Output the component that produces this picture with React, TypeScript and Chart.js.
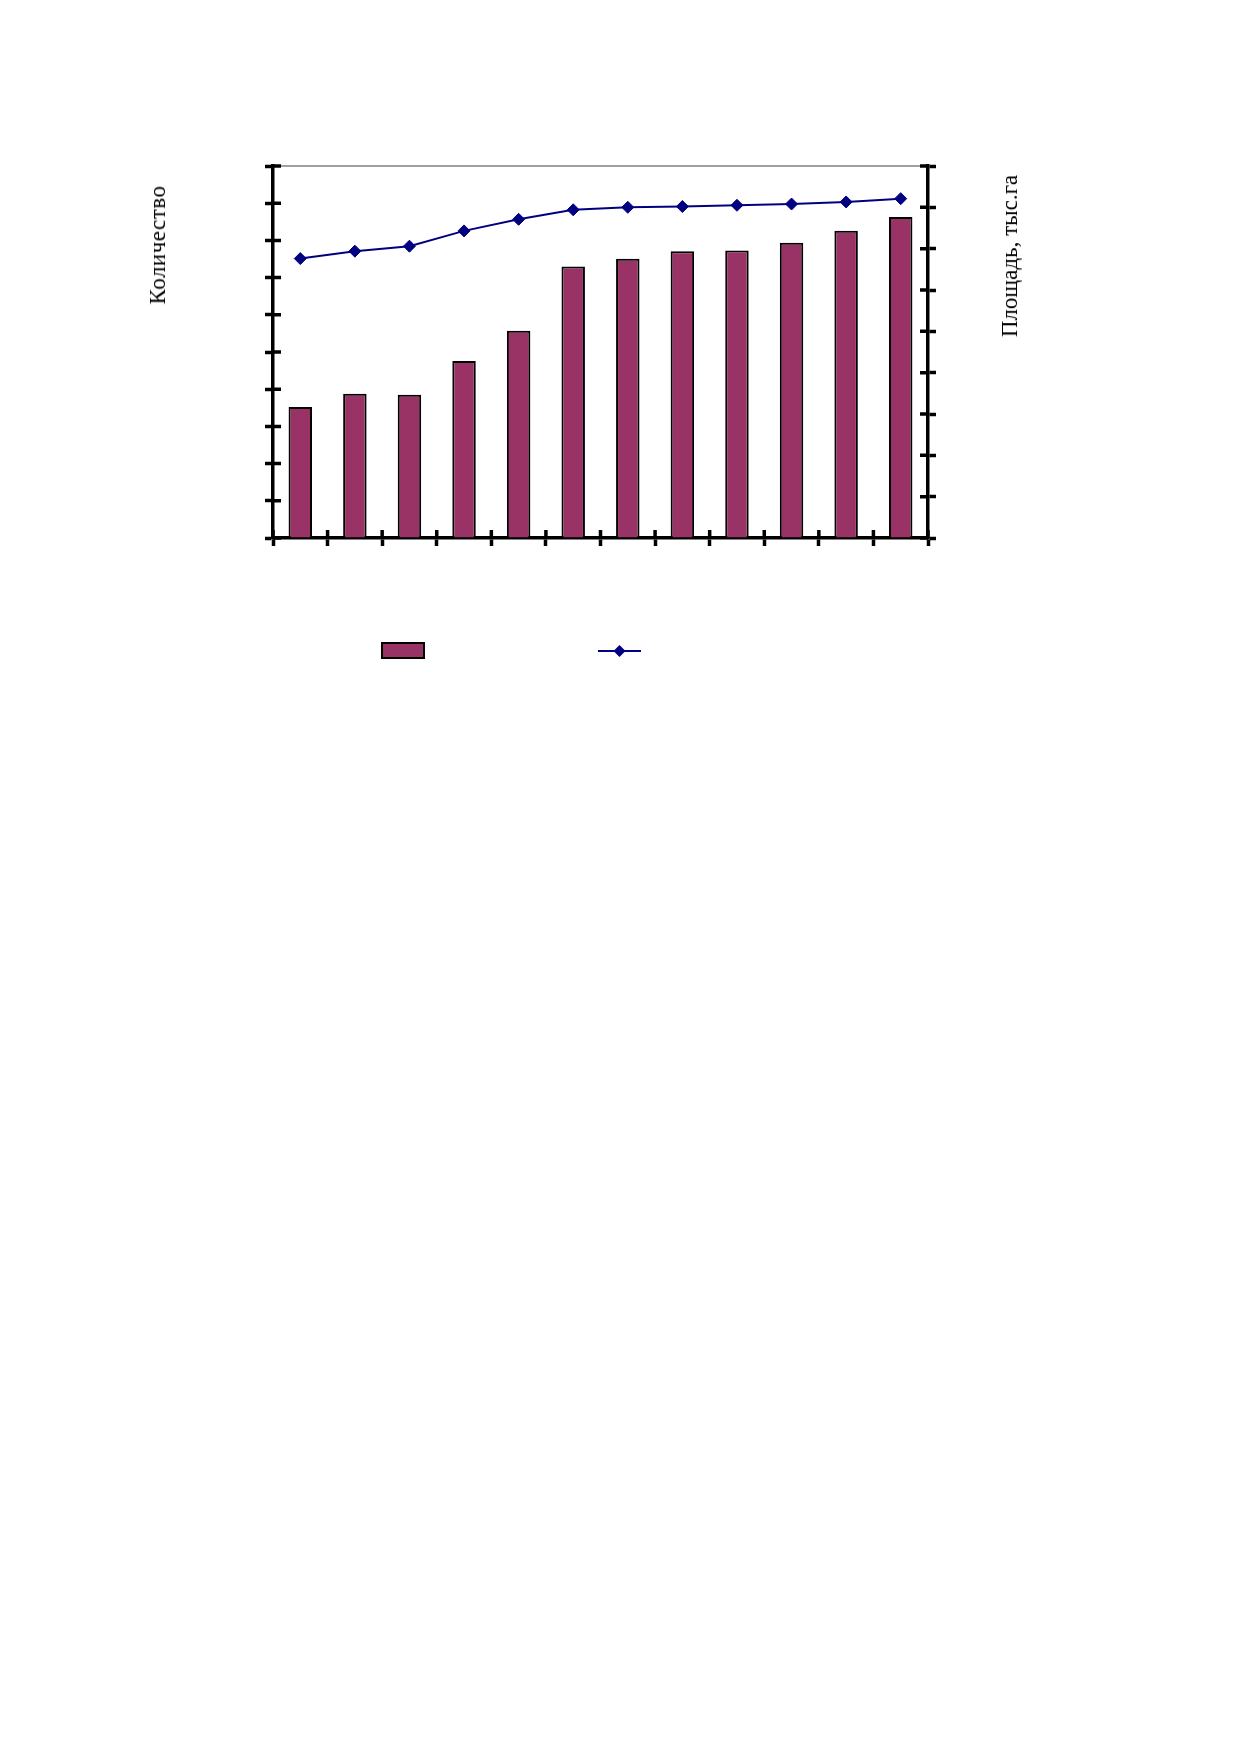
import { useEffect, useRef } from 'react'
import { Chart, registerables, ChartConfiguration, Plugin } from 'chart.js'

Chart.register(...registerables)

// 12 periods, no labels are printed on the axis
const categories = ['1', '2', '3', '4', '5', '6', '7', '8', '9', '10', '11', '12']

// Количество (left axis, 0..100)
const countValues = [35.2, 38.8, 38.5, 47.6, 55.7, 73.0, 75.1, 77.1, 77.3, 79.4, 82.6, 86.3]

// Площадь, тыс.га (right axis, 0..90)
const areaValues = [67.6, 69.4, 70.6, 74.3, 77.1, 79.4, 80.0, 80.2, 80.5, 80.8, 81.3, 82.1]

const leftTicks = { min: 0, max: 100, step: 10 }
const rightTicks = { min: 0, max: 90, step: 10 }

const BAR_COLOR = '#993366'
const LINE_COLOR = '#000080'
const TICK = 8

// inner half of the cross ticks + the grey top frame line
const innerTicks: Plugin = {
  id: 'innerTicks',
  afterDraw(chart) {
    const { ctx, chartArea } = chart
    const x = chart.scales.x
    const yL = chart.scales.yLeft
    const yR = chart.scales.yRight
    ctx.save()
    ctx.strokeStyle = '#808080'
    ctx.lineWidth = 1.5
    ctx.beginPath()
    ctx.moveTo(chartArea.left, chartArea.top)
    ctx.lineTo(chartArea.right, chartArea.top)
    ctx.stroke()

    ctx.strokeStyle = '#000'
    ctx.lineWidth = 3.5
    ctx.beginPath()
    yL.ticks.forEach((t) => {
      const py = yL.getPixelForValue(t.value)
      ctx.moveTo(chartArea.left, py)
      ctx.lineTo(chartArea.left + TICK, py)
    })
    yR.ticks.forEach((t) => {
      const py = yR.getPixelForValue(t.value)
      ctx.moveTo(chartArea.right, py)
      ctx.lineTo(chartArea.right - TICK, py)
    })
    for (let i = 0; i <= categories.length; i++) {
      const px = x.getPixelForValue(i - 0.5)
      ctx.moveTo(px, chartArea.bottom)
      ctx.lineTo(px, chartArea.bottom - TICK)
    }
    ctx.stroke()
    ctx.restore()
  },
}

// legend without text, as in the original
const markerLegend: Plugin = {
  id: 'markerLegend',
  afterDraw(chart) {
    const { ctx } = chart
    ctx.save()
    ctx.fillStyle = BAR_COLOR
    ctx.strokeStyle = '#000'
    ctx.lineWidth = 2
    ctx.fillRect(382, 643, 42, 15)
    ctx.strokeRect(382, 643, 42, 15)

    ctx.strokeStyle = LINE_COLOR
    ctx.lineWidth = 2
    ctx.beginPath()
    ctx.moveTo(598, 651)
    ctx.lineTo(641, 651)
    ctx.stroke()
    const cx = 619.5
    const cy = 651
    const r = 6
    ctx.fillStyle = LINE_COLOR
    ctx.beginPath()
    ctx.moveTo(cx, cy - r)
    ctx.lineTo(cx + r, cy)
    ctx.lineTo(cx, cy + r)
    ctx.lineTo(cx - r, cy)
    ctx.closePath()
    ctx.fill()
    ctx.restore()
  },
}

const CANVAS_W = 1239
const CANVAS_H = 720

export default function App() {
  const chartRef = useRef<HTMLCanvasElement>(null)
  const chartInstance = useRef<Chart | null>(null)

  useEffect(() => {
    if (!chartRef.current) return
    if (chartInstance.current) chartInstance.current.destroy()

    const axisGrid = {
      display: true,
      drawOnChartArea: false,
      drawTicks: true,
      tickLength: TICK,
      tickWidth: 3.5,
      tickColor: '#000',
      color: '#000',
    }

    const config: ChartConfiguration = {
      type: 'bar',
      data: {
        labels: categories,
        datasets: [
          {
            type: 'line',
            label: 'Площадь, тыс.га',
            data: areaValues,
            yAxisID: 'yRight',
            borderColor: LINE_COLOR,
            backgroundColor: LINE_COLOR,
            borderWidth: 2,
            pointStyle: 'rectRot',
            pointRadius: 6,
            pointBorderWidth: 1,
            tension: 0,
            order: 0,
          },
          {
            type: 'bar',
            label: 'Количество',
            data: countValues,
            yAxisID: 'yLeft',
            backgroundColor: BAR_COLOR,
            borderColor: '#000',
            borderWidth: 2,
            categoryPercentage: 1,
            barPercentage: 0.43,
            order: 1,
          },
        ],
      },
      options: {
        responsive: false,
        animation: false,
        layout: {
          padding: { left: 273 - 16, right: CANVAS_W - 928 - 16, top: 166, bottom: CANVAS_H - 538 - 16 },
        },
        plugins: {
          legend: { display: false },
          tooltip: { enabled: false },
        },
        scales: {
          x: {
            type: 'category',
            offset: true,
            grid: { ...axisGrid, offset: true },
            border: { display: true, color: '#000', width: 3.5 },
            ticks: { display: false },
            afterFit: (s: any) => { s.height = 16 },
          },
          yLeft: {
            type: 'linear',
            position: 'left',
            min: leftTicks.min,
            max: leftTicks.max,
            grid: axisGrid,
            border: { display: true, color: '#000', width: 3.5 },
            ticks: { display: false, stepSize: leftTicks.step },
            afterFit: (s: any) => { s.width = 16 },
          },
          yRight: {
            type: 'linear',
            position: 'right',
            min: rightTicks.min,
            max: rightTicks.max,
            grid: axisGrid,
            border: { display: true, color: '#000', width: 3.5 },
            ticks: { display: false, stepSize: rightTicks.step },
            afterFit: (s: any) => { s.width = 16 },
          },
        },
      },
      plugins: [innerTicks, markerLegend],
    }

    chartInstance.current = new Chart(chartRef.current, config)

    return () => {
      if (chartInstance.current) {
        chartInstance.current.destroy()
        chartInstance.current = null
      }
    }
  }, [])

  const titleStyle: React.CSSProperties = {
    position: 'absolute',
    transform: 'translate(-50%, -50%) rotate(-90deg)',
    whiteSpace: 'nowrap',
    fontFamily: '"Liberation Serif", "Times New Roman", serif',
    fontSize: 23,
    color: '#000',
  }

  return (
    <div style={{ position: 'absolute', left: 0, top: 0, width: CANVAS_W, height: CANVAS_H, background: '#fff' }}>
      <canvas ref={chartRef} width={CANVAS_W} height={CANVAS_H} style={{ display: 'block' }}></canvas>
      <div style={{ ...titleStyle, left: 158, top: 245, letterSpacing: 0.5 }}>Количество</div>
      <div style={{ ...titleStyle, left: 1010, top: 256 }}>Площадь, тыс.га</div>
    </div>
  )
}
